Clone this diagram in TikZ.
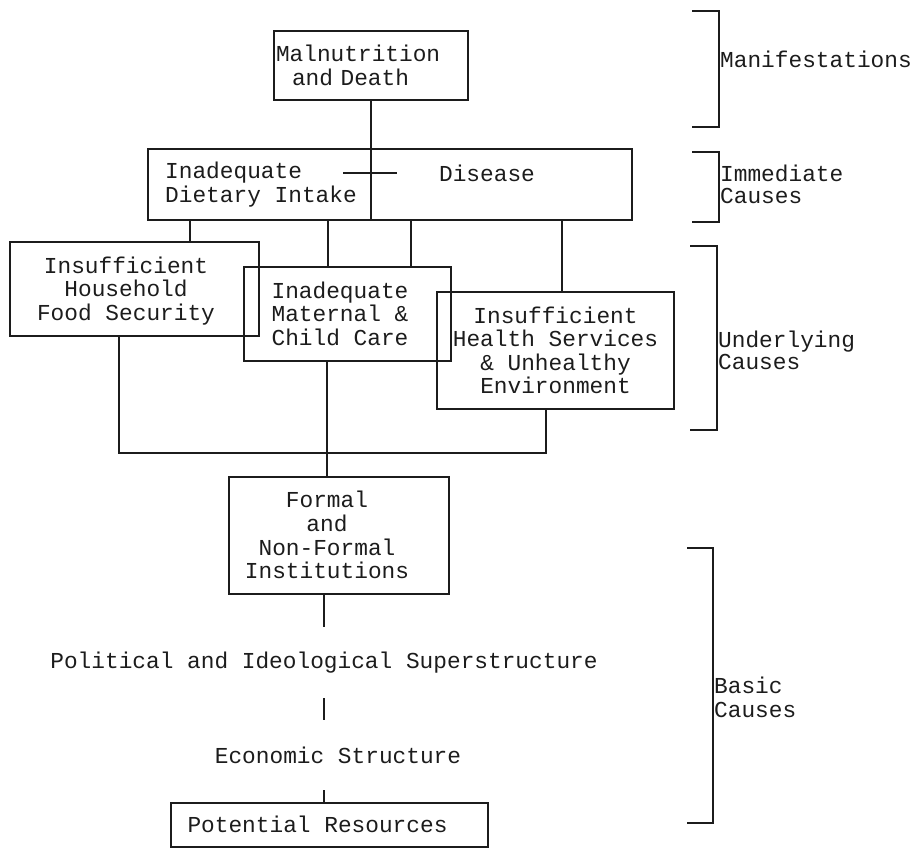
\documentclass[tikz,border=0pt]{standalone}
\usepackage{fontspec}
\setmonofont{Liberation Mono}
\usepackage{tikz}
\definecolor{ink}{HTML}{1C1C1C}
\newcommand\padr[2]{\raisebox{-3pt}[\height][\depth]{\begin{tabular}{@{}c@{\hspace{#1}}}#2\end{tabular}}}
\tikzset{
  box/.style={draw=ink,line width=1.2pt,align=center,inner sep=2pt,font=\ttfamily\fontsize{22.8}{23.5}\selectfont,text=ink},
  txt/.style={align=left,inner sep=0pt,font=\ttfamily\fontsize{22.8}{23.5}\selectfont,text=ink},
  link/.style={draw=ink,line width=1.1pt},
  bracket/.style={draw=ink,line width=1.3pt}
}

\begin{document}
\begin{tikzpicture}[x=1pt,y=-1pt]
  \useasboundingbox (0,0) rectangle (916,849);
  % the boxes
  \node[box,align=left,text width=190pt,minimum height=69pt] (mal) at (371,65.5) {Malnutrition\\\hspace*{16pt}and Death};
  \node[box,minimum width=484pt,minimum height=71pt] (imm) at (390,184.5) {};
  \node[txt,anchor=west] (intake) at (165,184.5) {Inadequate\\Dietary Intake};
  \node[txt] (disease) at (487,173) {Disease};
  \node[box,minimum width=249pt,minimum height=94pt] (hh) at (134.5,289) {\padr{17pt}{Insufficient\\Household\\Food Security}};
  \node[box,minimum width=207pt,minimum height=94pt] (mat) at (347.5,314) {\padr{15pt}{Inadequate\\Maternal \&\\Child Care}};
  \node[box,minimum width=237pt,minimum height=117pt] (hs) at (555.5,350.5) {Insufficient\\Health Services\\\& Unhealthy\\Environment};
  \node[box,minimum width=220pt,minimum height=117pt] (inst) at (339,535.5) {\padr{24pt}{Formal\\and\\Non-Formal\\Institutions}};
  \node[txt,minimum height=71pt] (pol) at (324,662.5) {Political and Ideological Superstructure};
  \node[txt,minimum height=70pt] (eco) at (338,755) {Economic Structure};
  \node[box,minimum width=317pt,minimum height=44pt] (pot) at (329.5,825) {\padr{24pt}{Potential Resources}};
  % links
  \draw[link] (mal.south) -- (mal.south |- imm.south);
  \coordinate (tick) at (370,173);
  \draw[link] ([xshift=-27pt]tick) -- ([xshift=27pt]tick);
  \draw[link] (190,0 |- imm.south) -- (190,0 |- hh.north);
  \draw[link] (328,0 |- imm.south) -- (328,0 |- mat.north);
  \draw[link] (411,0 |- imm.south) -- (411,0 |- mat.north);
  \draw[link] (562,0 |- imm.south) -- (562,0 |- hs.north);
  \coordinate (bus) at (327,453);
  \draw[link] (119,0 |- hh.south) |- (bus) -| (546,0 |- hs.south);
  \draw[link] (327,0 |- mat.south) -- (327,0 |- inst.north);
  \draw[link] (pol.north |- inst.south) -- (pol.north);
  \draw[link] (pol.south) -- (pol.south |- eco.north);
  \draw[link] (pol.south |- eco.south) -- (pol.south |- pot.north);
  % levels on the right
  \draw[bracket] (692,11) -| (719,127) -- (692,127);
  \node[txt,anchor=west] (manif) at (720,59) {Manifestations};
  \draw[bracket] (692,152) -| (719,222) -- (692,222);
  \node[txt,anchor=west,font=\ttfamily\fontsize{22.8}{22}\selectfont] (immc) at (720,184) {Immediate\\Causes};
  \draw[bracket] (690,246) -| (717,430) -- (690,430);
  \node[txt,anchor=west,font=\ttfamily\fontsize{22.8}{22}\selectfont] (undc) at (718,350) {Underlying\\Causes};
  \draw[bracket] (687,548) -| (713,823) -- (687,823);
  \node[txt,anchor=west,font=\ttfamily\fontsize{22.8}{24}\selectfont] (basc) at (714,697) {Basic\\Causes};
\end{tikzpicture}
\end{document}
